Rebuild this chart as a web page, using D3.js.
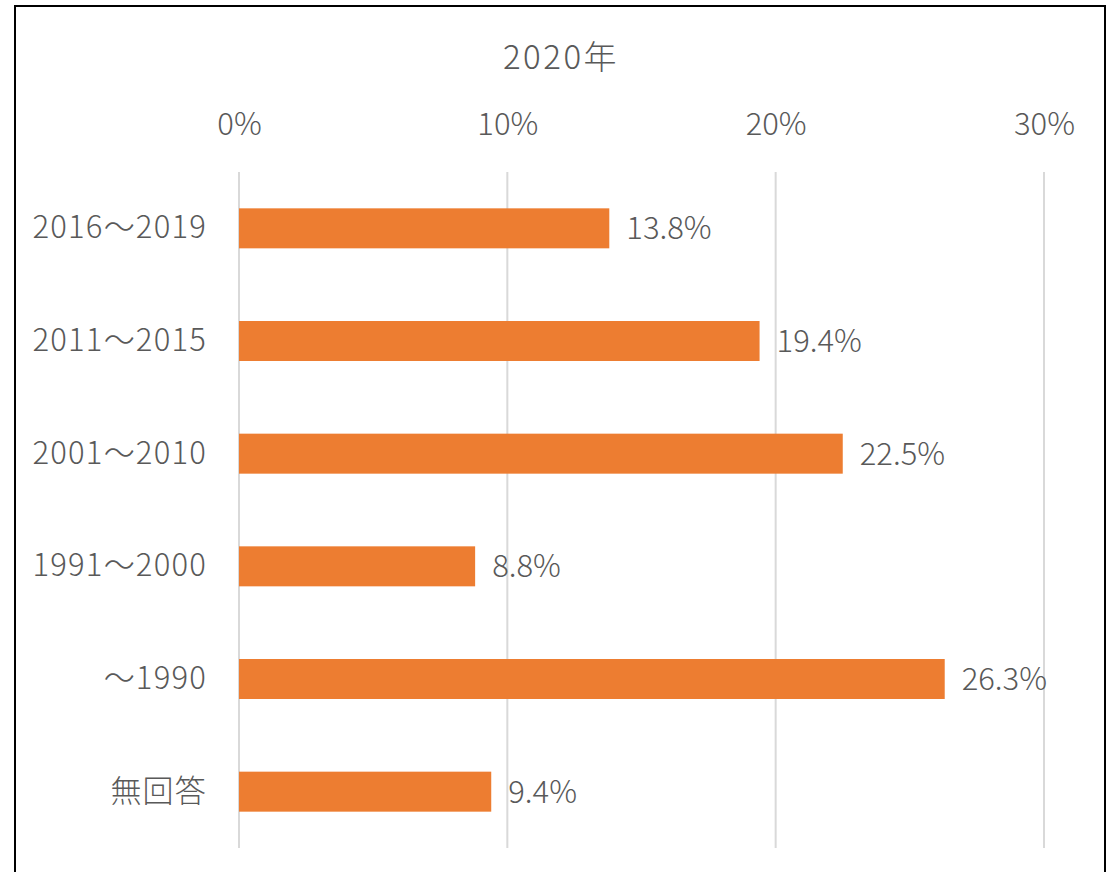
<!DOCTYPE html>
<html>
<head>
<meta charset="utf-8">
<script src="https://cdn.jsdelivr.net/npm/d3@7"></script>
<style>
  body { margin: 0; background: #fff; }
  text { font-family: "Noto Sans CJK JP", "Noto Sans", sans-serif; font-weight: 300; fill: #595959; }
</style>
</head>
<body>
<div id="chart"></div>
<script>
// Data
const categories = ["2016～2019", "2011～2015", "2001～2010", "1991～2000", "～1990", "無回答"];
const values = [13.8, 19.4, 22.5, 8.8, 26.3, 9.4];
const tickValues = [0, 10, 20, 30];
const title = "2020年";

const W = 1116, H = 872;
const margin = {top: 172, left: 239, right: 72, bottom: 24};

const svg = d3.select("#chart")
  .append("svg")
  .attr("width", W)
  .attr("height", H);

// Outer frame
svg.append("rect")
  .attr("x", 15)
  .attr("y", 6)
  .attr("width", 1090)
  .attr("height", 900)
  .attr("fill", "#fff")
  .attr("stroke", "#000")
  .attr("stroke-width", 2);

const x = d3.scaleLinear()
  .domain([0, 30])
  .range([margin.left, W - margin.right]);

const y = d3.scaleBand()
  .domain(categories)
  .range([margin.top, H - margin.bottom])
  .paddingInner(0.645)
  .paddingOuter(0.3225);

// Gridlines
svg.append("g")
  .selectAll("line")
  .data(tickValues)
  .join("line")
  .attr("x1", d => x(d))
  .attr("x2", d => x(d))
  .attr("y1", margin.top)
  .attr("y2", H - margin.bottom)
  .attr("stroke", "#d9d9d9")
  .attr("stroke-width", 2);

// Top axis
svg.append("g")
  .attr("transform", `translate(0,${margin.top - 45})`)
  .call(d3.axisTop(x).tickValues(tickValues).tickFormat(d => d + "%").tickSize(0))
  .call(g => g.select(".domain").remove())
  .selectAll("text")
  .attr("dy", "0.35em")
  .style("font-size", "31px");

// Left axis labels
svg.append("g")
  .attr("transform", `translate(${margin.left - 32},0)`)
  .call(d3.axisLeft(y).tickSize(0).tickPadding(0))
  .call(g => g.select(".domain").remove())
  .selectAll("text")
  .style("font-size", "31px")
  .style("letter-spacing", "1.2px");

// Bars
svg.append("g")
  .selectAll("rect")
  .data(values)
  .join("rect")
  .attr("x", x(0))
  .attr("y", (d, i) => y(categories[i]))
  .attr("width", d => x(d) - x(0))
  .attr("height", y.bandwidth())
  .attr("fill", "#ed7d31");

// Value labels
svg.append("g")
  .selectAll("text")
  .data(values)
  .join("text")
  .attr("x", d => x(d) + 17)
  .attr("y", (d, i) => y(categories[i]) + y.bandwidth() / 2)
  .attr("dy", "0.35em")
  .style("font-size", "31px")
  .text(d => d.toFixed(1) + "%");

// Title
svg.append("text")
  .attr("x", 561)
  .attr("y", 57)
  .attr("dy", "0.35em")
  .attr("text-anchor", "middle")
  .style("font-size", "33px")
  .style("letter-spacing", "2.5px")
  .text(title);
</script>
</body>
</html>
